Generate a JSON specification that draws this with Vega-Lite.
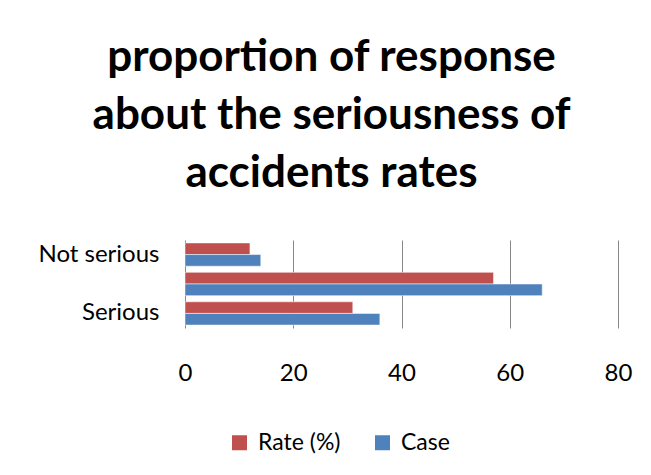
{
  "$schema": "https://vega.github.io/schema/vega-lite/v6.json",
  "width": 433,
  "height": 88,
  "autosize": {"type": "none"},
  "padding": {"left": 185, "top": 240, "right": 33, "bottom": 147},
  "background": "white",
  "title": {
    "text": ["proportion of response", "about the seriousness of", "accidents rates"],
    "font": "Lato",
    "fontSize": 44,
    "fontWeight": "bold",
    "color": "#000000",
    "lineHeight": 58,
    "anchor": "middle",
    "frame": "group",
    "dx": -70,
    "offset": 44
  },
  "data": {
    "values": [
      {"response": "Serious", "series": "Rate (%)", "value": 31},
      {"response": "Serious", "series": "Case", "value": 36},
      {"response": "Very serious", "series": "Rate (%)", "value": 57},
      {"response": "Very serious", "series": "Case", "value": 66},
      {"response": "Not serious", "series": "Rate (%)", "value": 12},
      {"response": "Not serious", "series": "Case", "value": 14}
    ]
  },
  "mark": {"type": "bar", "stroke": "#ffffff", "strokeOpacity": 0.5, "strokeWidth": 1},
  "encoding": {
    "y": {
      "field": "response",
      "type": "nominal",
      "sort": ["Not serious", "Very serious", "Serious"],
      "scale": {"paddingInner": 0.21, "paddingOuter": 0.1},
      "axis": {
        "title": null,
        "domain": false,
        "ticks": false,
        "labelFont": "Lato",
        "labelFontSize": 24,
        "labelColor": "#000000",
        "labelPadding": 26,
        "labelExpr": "datum.value == 'Very serious' ? '' : datum.label"
      }
    },
    "yOffset": {
      "field": "series",
      "type": "nominal",
      "sort": ["Rate (%)", "Case"],
      "scale": {"paddingInner": 0, "paddingOuter": 0}
    },
    "x": {
      "field": "value",
      "type": "quantitative",
      "scale": {"domain": [0, 80], "nice": false},
      "axis": {
        "title": null,
        "values": [0, 20, 40, 60, 80],
        "grid": true,
        "gridColor": "#888888",
        "gridWidth": 1,
        "domain": false,
        "ticks": false,
        "labelFlush": false,
        "labelFont": "Lato",
        "labelFontSize": 24,
        "labelColor": "#000000",
        "labelPadding": 33
      }
    },
    "color": {
      "field": "series",
      "type": "nominal",
      "scale": {"domain": ["Rate (%)", "Case"], "range": ["#C0504D", "#4F81BD"]},
      "legend": {
        "title": null,
        "orient": "none",
        "direction": "horizontal",
        "legendX": 43,
        "legendY": 191,
        "symbolType": "square",
        "symbolSize": 225,
        "symbolStrokeWidth": 0,
        "labelFont": "Lato",
        "labelFontSize": 23,
        "labelColor": "#000000",
        "labelOffset": 7,
        "columnPadding": 30
      }
    }
  },
  "config": {
    "view": {"stroke": null}
  }
}
